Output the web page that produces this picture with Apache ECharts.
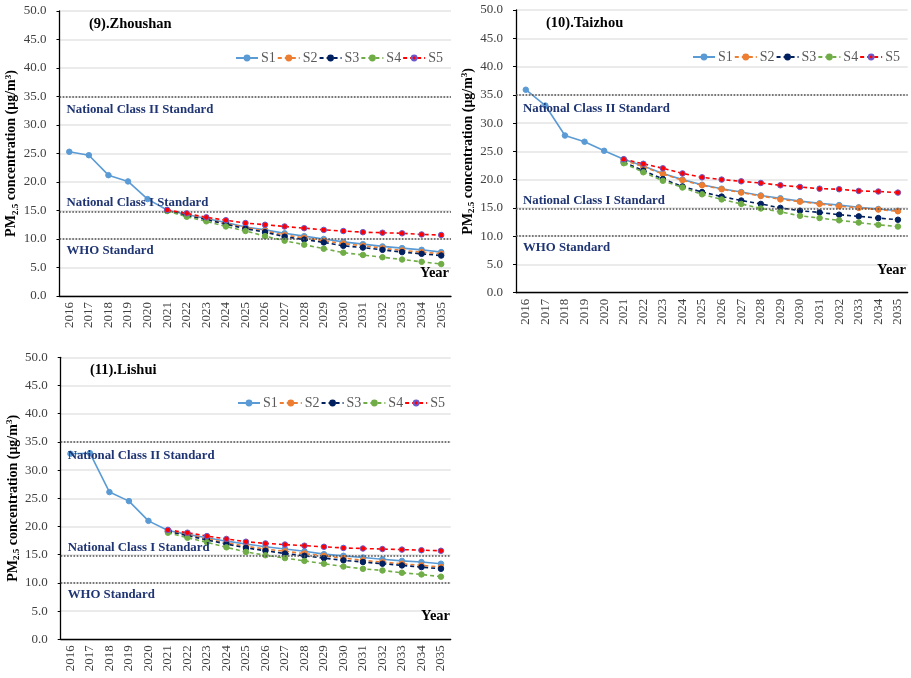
<!DOCTYPE html>
<html>
<head>
<meta charset="utf-8">
<script src="https://cdn.jsdelivr.net/npm/echarts@6/dist/echarts.min.js"></script>
<style>html,body{margin:0;padding:0;background:#fff}#c{width:911px;height:678px}</style>
</head>
<body>
<div id="c"></div>
<script>
const years = ['2016','2017','2018','2019','2020','2021','2022','2023','2024','2025','2026','2027','2028','2029','2030','2031','2032','2033','2034','2035'];
const seriesNames = ['S1','S2','S3','S4','S5'];
const panelTitles = ['(9).Zhoushan','(10).Taizhou','(11).Lishui'];
const yTicks = [0,5,10,15,20,25,30,35,40,45,50];
const standards = [35, 14.8, 10];
const standardNames = ['National Class II Standard','National Class I Standard','WHO Standard'];

// Zhoushan
const zs_S1 = [25.3,24.7,21.2,20.1,17.0,15.1,14.3,13.6,12.9,12.1,11.6,11.0,10.5,10.0,9.5,9.1,8.7,8.4,8.1,7.7];
const zs_S2 = ['-','-','-','-','-',15.0,14.2,13.5,12.7,12.0,11.4,10.7,10.2,9.7,9.2,8.8,8.4,8.0,7.7,7.4];
const zs_S3 = ['-','-','-','-','-',15.0,14.1,13.4,12.6,11.8,11.2,10.4,9.9,9.4,8.8,8.5,8.1,7.7,7.4,7.1];
const zs_S4 = ['-','-','-','-','-',14.9,13.9,13.1,12.2,11.4,10.5,9.7,9.0,8.3,7.6,7.2,6.8,6.4,6.0,5.6];
const zs_S5 = ['-','-','-','-','-',15.1,14.5,13.8,13.3,12.8,12.5,12.2,11.9,11.6,11.4,11.2,11.1,11.0,10.8,10.7];
// Taizhou
const tz_S1 = [35.9,33.1,27.8,26.7,25.1,23.6,22.4,21.1,20.0,19.1,18.4,17.8,17.2,16.7,16.2,15.8,15.5,15.1,14.8,14.5];
const tz_S2 = ['-','-','-','-','-',23.4,22.3,21.0,19.9,19.0,18.3,17.7,17.1,16.5,16.1,15.7,15.3,15.0,14.7,14.4];
const tz_S3 = ['-','-','-','-','-',23.1,21.6,20.1,18.8,17.8,17.0,16.3,15.7,15.0,14.5,14.2,13.8,13.5,13.2,12.9];
const tz_S4 = ['-','-','-','-','-',22.9,21.3,19.8,18.6,17.4,16.5,15.7,14.9,14.3,13.6,13.2,12.8,12.4,12.0,11.7];
const tz_S5 = ['-','-','-','-','-',23.6,22.8,22.0,21.1,20.4,20.0,19.7,19.4,19.0,18.7,18.4,18.3,18.0,17.9,17.7];
// Lishui
const ls_S1 = [32.9,33.0,26.1,24.5,21.0,19.3,18.6,18.0,17.4,16.9,16.4,16.0,15.6,15.1,14.8,14.5,14.2,13.9,13.7,13.4];
const ls_S2 = ['-','-','-','-','-',19.2,18.5,17.8,17.1,16.5,16.0,15.6,15.2,14.8,14.4,14.0,13.7,13.4,13.1,12.8];
const ls_S3 = ['-','-','-','-','-',19.1,18.4,17.6,16.9,16.2,15.7,15.2,14.8,14.4,14.0,13.7,13.4,13.1,12.8,12.5];
const ls_S4 = ['-','-','-','-','-',18.9,18.0,17.2,16.3,15.5,14.9,14.4,13.9,13.4,12.9,12.5,12.2,11.8,11.5,11.1];
const ls_S5 = ['-','-','-','-','-',19.4,18.9,18.3,17.8,17.3,17.0,16.8,16.6,16.4,16.2,16.1,16.0,15.9,15.8,15.7];

const panelData = [
  [zs_S1, zs_S2, zs_S3, zs_S4, zs_S5],
  [tz_S1, tz_S2, tz_S3, tz_S4, tz_S5],
  [ls_S1, ls_S2, ls_S3, ls_S4, ls_S5]
];

const SERIF = '"Liberation Serif","Times New Roman",serif';
const colors = ['#5B9BD5','#ED7D31','#002060','#70AD47','#FF0000'];
const borders = ['#5B9BD5','#ED7D31','#002060','#70AD47','#6A5ACD'];
const dashes = ['solid',[4,3],[4,3],[4,3],[4,3]];

const grids = [
  {left: 59.5, top: 11, width: 391.5, height: 285},
  {left: 516, top: 10, width: 391.7, height: 282.7},
  {left: 60.7, top: 357.3, width: 390, height: 282}
];
const legendPos = [{left: 235, top: 51}, {left: 692, top: 50}, {left: 237, top: 396}];
const titlePos = [{left: 89, top: 17}, {left: 546, top: 16}, {left: 90, top: 363}];
const yearPos = [{right: 462, top: 266}, {right: 5, top: 263}, {right: 461, top: 609}];

const option = {
  animation: false,
  backgroundColor: '#fff',
  title: [],
  legend: [],
  grid: grids,
  xAxis: [],
  yAxis: [],
  series: []
};

panelData.forEach((pd, p) => {
  option.title.push({
    text: panelTitles[p], left: titlePos[p].left, top: titlePos[p].top, padding: 0,
    textStyle: {fontFamily: SERIF, fontWeight: 'bold', fontSize: 14.5, color: '#000'}
  });
  option.title.push({
    text: 'Year', right: yearPos[p].right, top: yearPos[p].top, padding: 0,
    textStyle: {fontFamily: SERIF, fontWeight: 'bold', fontSize: 14.5, color: '#000'}
  });
  option.legend.push({
    data: seriesNames.slice(), left: legendPos[p].left, top: legendPos[p].top,
    width: 260, orient: 'horizontal',
    itemWidth: 22, itemHeight: 6, itemGap: 1, padding: 0,
    textStyle: {fontFamily: SERIF, fontSize: 14, color: '#595959', padding: [0,0,0,-2]}
  });
  option.xAxis.push({
    type: 'category', gridIndex: p, data: years, boundaryGap: true,
    axisLine: {lineStyle: {color: '#000', width: 1.3}},
    axisTick: {inside: true, length: 4, alignWithLabel: false, lineStyle: {color: '#000'}},
    axisLabel: {rotate: 90, fontFamily: SERIF, fontSize: 13, color: '#404040', margin: 6, interval: 0},
    splitLine: {show: false}
  });
  option.yAxis.push({
    type: 'value', gridIndex: p, min: 0, max: 50, interval: 5,
    axisLine: {show: true, lineStyle: {color: '#000', width: 1.3}},
    axisTick: {show: true, length: 3, lineStyle: {color: '#000'}},
    axisLabel: {fontFamily: SERIF, fontSize: 13, color: '#404040', margin: 13,
      formatter: v => yTicks.indexOf(v) >= 0 ? v.toFixed(1) : ''},
    splitLine: {show: true, lineStyle: {color: '#e4e4e4', width: 1.5}},
    name: '{b|PM}{s|2.5}{b| concentration (μg/m}{p|3}{b|)}',
    nameLocation: 'middle', nameGap: 39, nameRotate: 90,
    nameTextStyle: {
      rich: {
        b: {fontFamily: SERIF, fontWeight: 'bold', fontSize: 14, color: '#000', lineHeight: 16},
        s: {fontFamily: SERIF, fontWeight: 'bold', fontSize: 9, color: '#000', lineHeight: 9, verticalAlign: 'bottom'},
        p: {fontFamily: SERIF, fontWeight: 'bold', fontSize: 9, color: '#000', lineHeight: 9, verticalAlign: 'top'}
      }
    }
  });
  pd.forEach((arr, i) => {
    const s = {
      name: seriesNames[i], type: 'line', xAxisIndex: p, yAxisIndex: p,
      data: arr, symbol: 'circle', symbolSize: 5.5, showSymbol: true,
      lineStyle: {color: colors[i], width: 1.6, type: dashes[i]},
      itemStyle: {color: colors[i], borderColor: borders[i], borderWidth: 1},
      z: 3
    };
    if (i === 0) {
      s.z = 2;
      s.markLine = {
        silent: true, symbol: 'none', animation: false,
        lineStyle: {type: 'dotted', color: '#505050', width: 1.6},
        data: standards.map((v, k) => ({
          yAxis: v,
          label: {
            show: true, formatter: standardNames[k],
            position: k === 1 ? 'insideStartTop' : 'insideStartBottom',
            distance: k === 1 ? [7, 2] : [7, k === 0 ? 7 : 5],
            fontFamily: SERIF, fontWeight: 'bold', fontSize: 12.8, color: '#1F3573'
          }
        }))
      };
    }
    if (i === 4) s.z = 6;
    option.series.push(s);
  });
});

const chart = echarts.init(document.getElementById('c'), null, {renderer: 'canvas'});
chart.setOption(option);
</script>
</body>
</html>
